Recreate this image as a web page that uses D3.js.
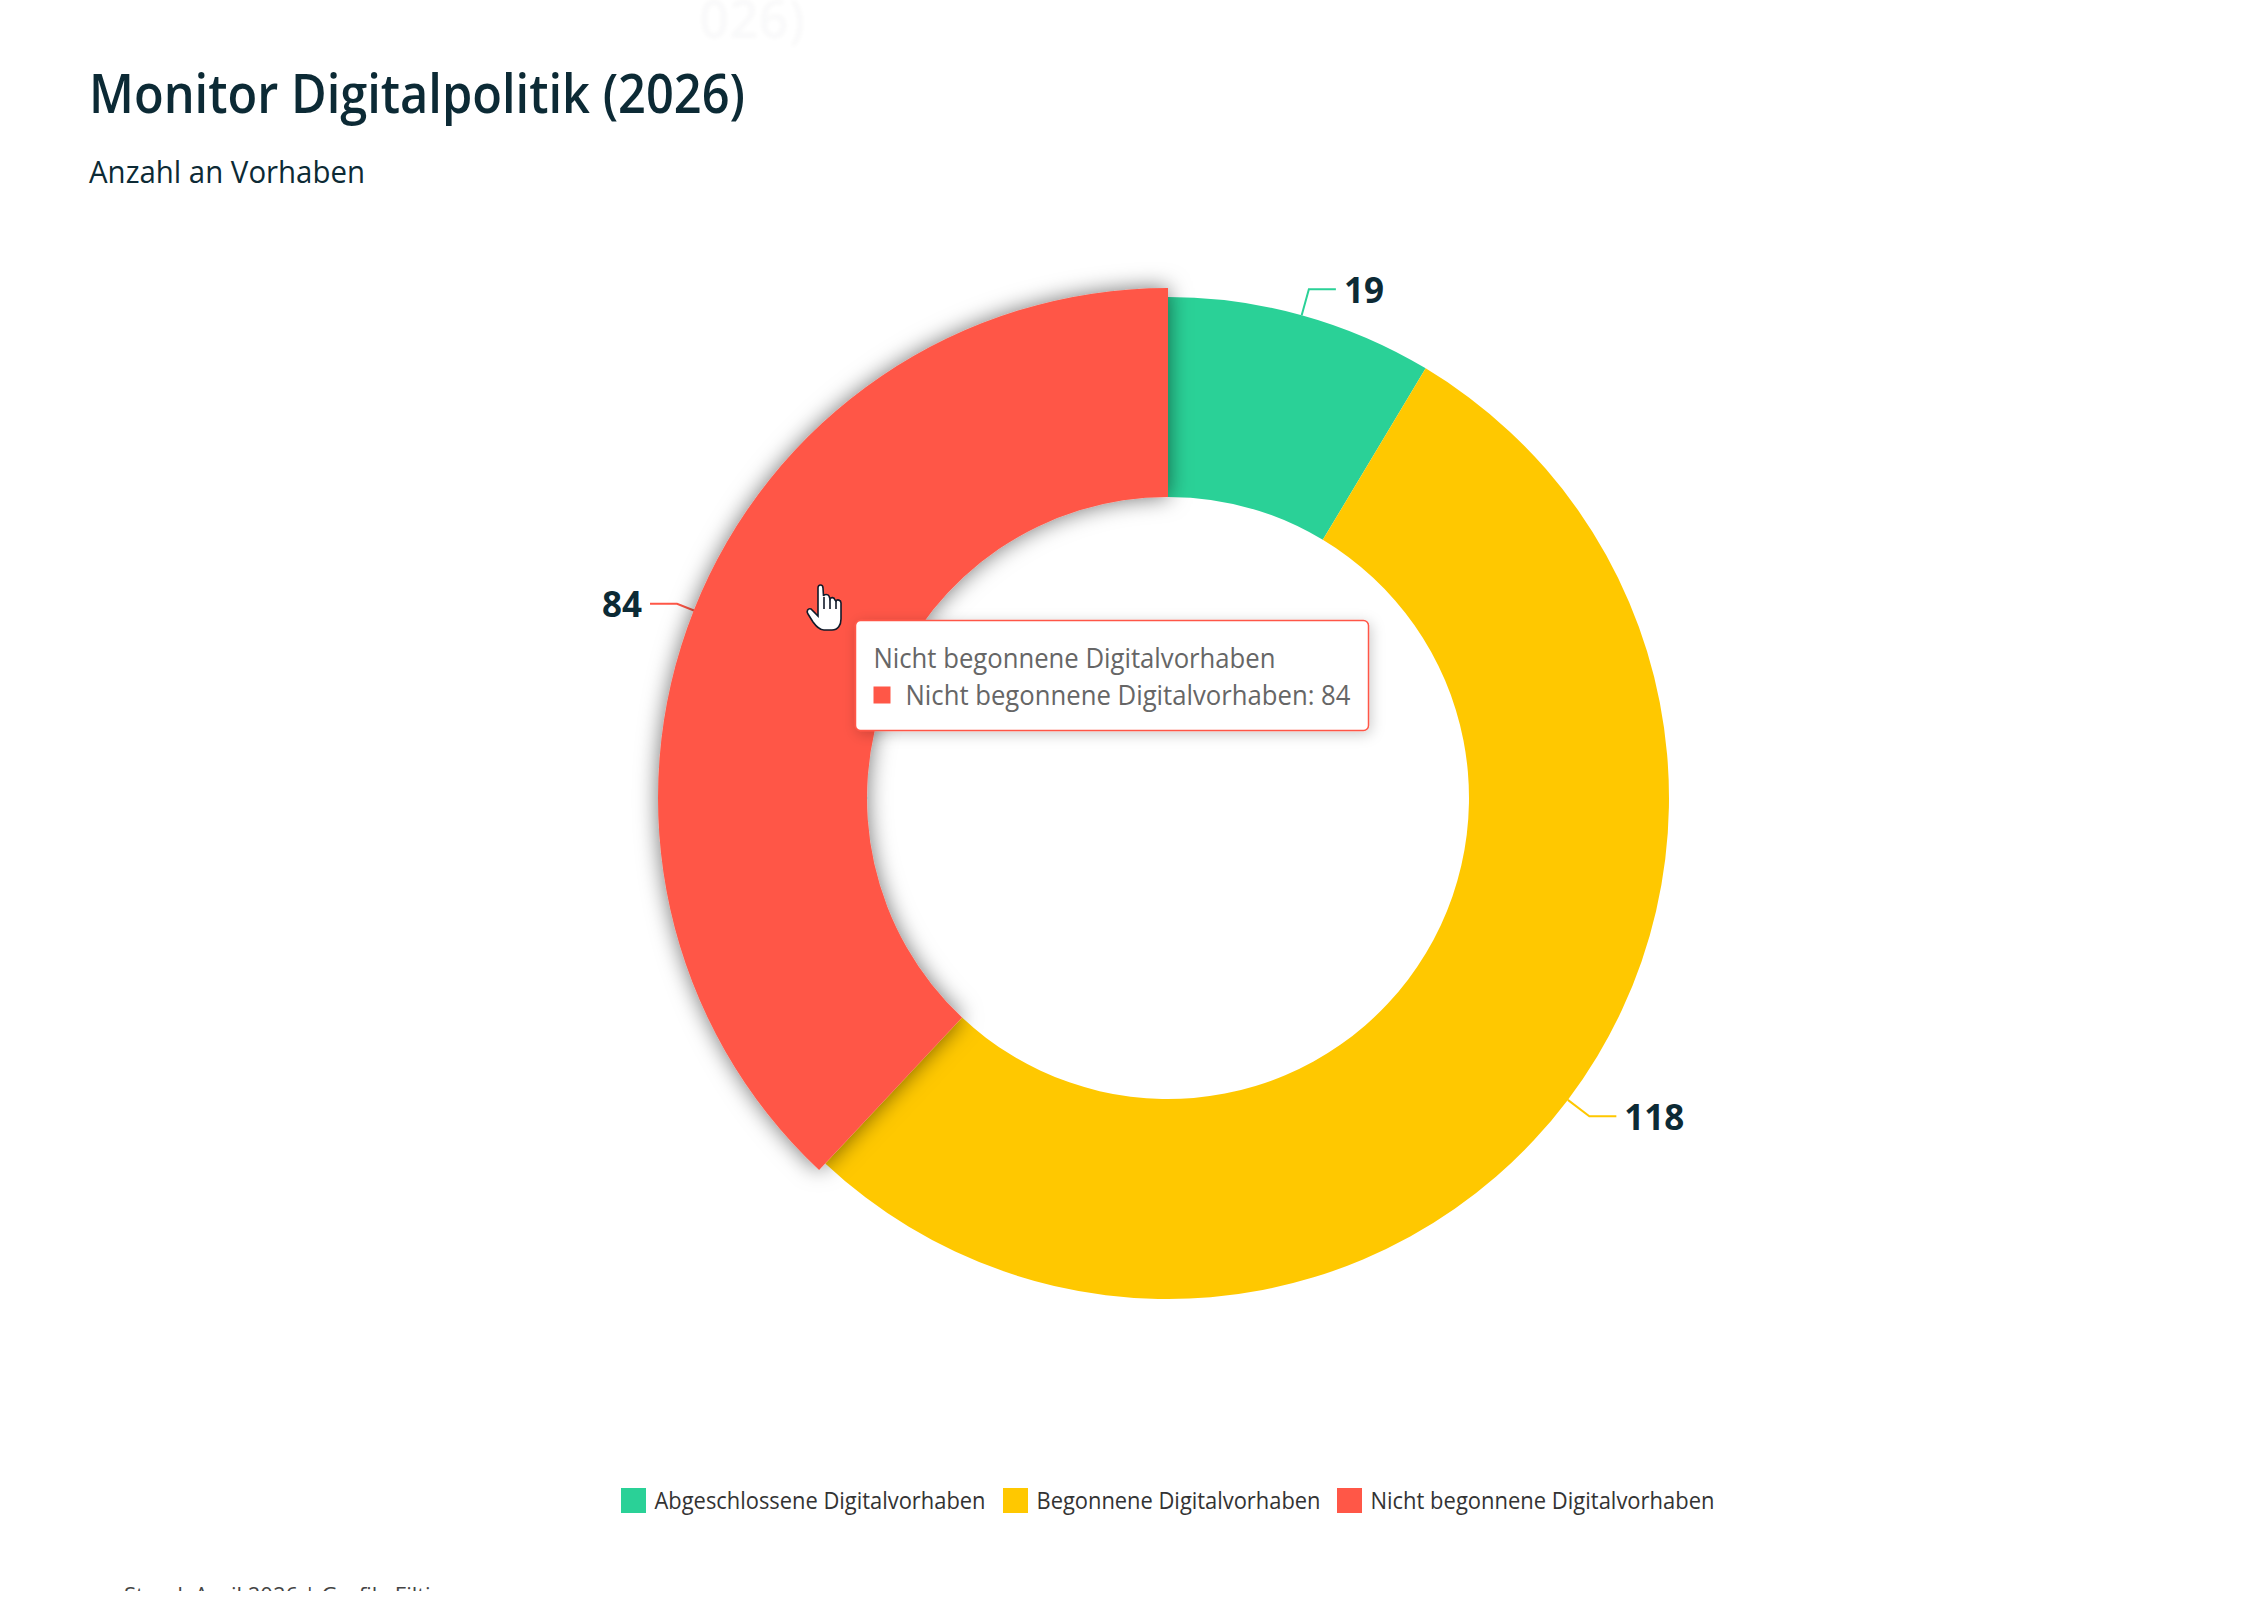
<!DOCTYPE html>
<html>
<head>
<meta charset="utf-8">
<script src="https://cdn.jsdelivr.net/npm/d3@7"></script>
<style>
  html, body { margin: 0; background: #fff; }
  svg { display: block; }
  text { font-family: "Open Sans", "Noto Sans", sans-serif; }
</style>
</head>
<body>
<svg id="chart" width="2246" height="1604"></svg>
<script>
const categories = ["Abgeschlossene Digitalvorhaben", "Begonnene Digitalvorhaben", "Nicht begonnene Digitalvorhaben"];
const values = [19, 118, 84];
const colors = ["#2ad197", "#ffc800", "#ff5747"];
const hovered = "Nicht begonnene Digitalvorhaben";
const titleText = "Monitor Digitalpolitik (2026)";
const ghostText = "026)";
const subtitleText = "Anzahl an Vorhaben";
const footerText = "Stand: April 2026 | Grafik: Filti";

const dark = "#0c2a35";
const cx = 1168, cy = 798;
const outerR = 501, innerR = 301, hoverR = 510;

const svg = d3.select("#chart");

const defs = svg.append("defs");
const shadow = defs.append("filter").attr("id", "sliceShadow")
    .attr("x", "-20%").attr("y", "-20%").attr("width", "140%").attr("height", "140%");
shadow.append("feDropShadow").attr("dx", 0).attr("dy", 0).attr("stdDeviation", 11)
    .attr("flood-color", "#000").attr("flood-opacity", 0.55);
const tipShadow = defs.append("filter").attr("id", "tipShadow")
    .attr("x", "-10%").attr("y", "-20%").attr("width", "120%").attr("height", "150%");
tipShadow.append("feDropShadow").attr("dx", 2).attr("dy", 3).attr("stdDeviation", 7)
    .attr("flood-color", "#000").attr("flood-opacity", 0.2);
const ghostBlur = defs.append("filter").attr("id", "ghostBlur");
ghostBlur.append("feGaussianBlur").attr("stdDeviation", 2);
// the source line is cut off in the screenshot
defs.append("clipPath").attr("id", "footerClip")
    .append("rect").attr("x", 0).attr("y", 1500).attr("width", 2246).attr("height", 91);

// faint leftover of the title at the top edge
svg.append("text").attr("x", 805).attr("y", 38).attr("text-anchor", "end")
    .attr("font-size", 52).attr("font-weight", 600).attr("fill", dark).attr("opacity", 0.025)
    .attr("filter", "url(#ghostBlur)").text(ghostText);

// title
svg.append("text").attr("x", 89).attr("y", 113)
    .attr("font-size", 54).attr("font-weight", 600).attr("fill", dark)
    .attr("textLength", 656).attr("lengthAdjust", "spacingAndGlyphs").text(titleText);
svg.append("text").attr("x", 89).attr("y", 183)
    .attr("font-size", 31).attr("fill", dark)
    .attr("textLength", 276).attr("lengthAdjust", "spacingAndGlyphs").text(subtitleText);

const rows = categories.map((name, i) => ({ name, value: values[i], color: colors[i] }));
const pie = d3.pie().value(d => d.value).sort(null);
const arcs = pie(rows);
const arc = d3.arc().innerRadius(innerR)
    .outerRadius(d => d.data.name === hovered ? hoverR : outerR);

const g = svg.append("g").attr("transform", `translate(${cx},${cy})`);

// leader lines sit under the slices
const elbowR = outerR + 27, run = 27;
const labelInfo = arcs.map(d => {
    const mid = (d.startAngle + d.endAngle) / 2;
    const s = Math.sin(mid), c = -Math.cos(mid);
    const side = s >= 0 ? 1 : -1;
    const ex = elbowR * s, ey = elbowR * c;
    return { d, side, ex, ey, pts: [[outerR * s, outerR * c], [ex, ey], [ex + side * run, ey]] };
});
g.selectAll("path.leader").data(labelInfo).join("path")
    .attr("class", "leader")
    .attr("d", d => d3.line()(d.pts))
    .attr("fill", "none").attr("stroke", d => d.d.data.color).attr("stroke-width", 2);

g.selectAll("path.slice").data(arcs.filter(d => d.data.name !== hovered)).join("path")
    .attr("class", "slice").attr("d", arc).attr("fill", d => d.data.color);
g.selectAll("path.hover").data(arcs.filter(d => d.data.name === hovered)).join("path")
    .attr("class", "hover").attr("d", arc).attr("fill", d => d.data.color)
    .attr("filter", "url(#sliceShadow)");

g.selectAll("text.value").data(labelInfo).join("text")
    .attr("class", "value")
    .attr("x", d => d.ex + d.side * (run + 8))
    .attr("y", d => d.ey + 1)
    .attr("dy", "0.36em")
    .attr("text-anchor", d => d.side > 0 ? "start" : "end")
    .attr("font-size", 35).attr("font-weight", 700).attr("fill", dark)
    .text(d => d.d.data.value);

// tooltip
const hoverRow = rows.find(r => r.name === hovered);
const tip = svg.append("g").attr("transform", "translate(855.5,620.5)");
tip.append("rect").attr("width", 513).attr("height", 110).attr("rx", 5)
    .attr("fill", "#fff").attr("stroke", hoverRow.color).attr("stroke-width", 1.5)
    .attr("filter", "url(#tipShadow)");
tip.append("text").attr("x", 18).attr("y", 47).attr("font-size", 27).attr("fill", "#666")
    .attr("textLength", 402).attr("lengthAdjust", "spacingAndGlyphs").text(hoverRow.name);
tip.append("rect").attr("x", 18).attr("y", 66).attr("width", 17).attr("height", 17).attr("fill", hoverRow.color);
tip.append("text").attr("x", 50).attr("y", 84).attr("font-size", 27).attr("fill", "#666")
    .attr("textLength", 445).attr("lengthAdjust", "spacingAndGlyphs").text(`${hoverRow.name}: ${hoverRow.value}`);

// legend
const legendX = [621, 1003, 1337], legendW = [331, 284, 344];
const legend = svg.append("g").attr("transform", "translate(0,1488)");
const items = legend.selectAll("g").data(rows).join("g")
    .attr("transform", (d, i) => `translate(${legendX[i]},0)`);
items.append("rect").attr("width", 25).attr("height", 25).attr("fill", d => d.color);
items.append("text").attr("x", 33.5).attr("y", 21).attr("font-size", 24).attr("fill", "#333")
    .attr("textLength", (d, i) => legendW[i]).attr("lengthAdjust", "spacingAndGlyphs").text(d => d.name);

// source line, only its top is visible
svg.append("g").attr("clip-path", "url(#footerClip)")
    .append("text").attr("x", 124).attr("y", 1603).attr("font-size", 22).attr("fill", "#444").text(footerText);

// cursor
const hand = svg.append("g").attr("transform", "translate(807,585)")
    .attr("fill", "none").attr("stroke", "#111a2a").attr("stroke-width", 1.6);
hand.append("path").attr("fill", "#fff")
    .attr("d", "M11 3 C11 -1 16 -1 16 3 L16.5 11 C17 9 21 9 22 11 L23 14 C24 12 27 12 28 15 L29 16 C30 14 34 15 34 18 L34 34 C34 40 31 45 25 45 L17 45 C12 45 9 41 6 37 L1 29 C-1 26 1 23 4 24 L11 31 Z");
hand.append("path").attr("d", "M17 12 L17 24 M23 14 L23 24 M29 16 L29 24");
</script>
</body>
</html>
